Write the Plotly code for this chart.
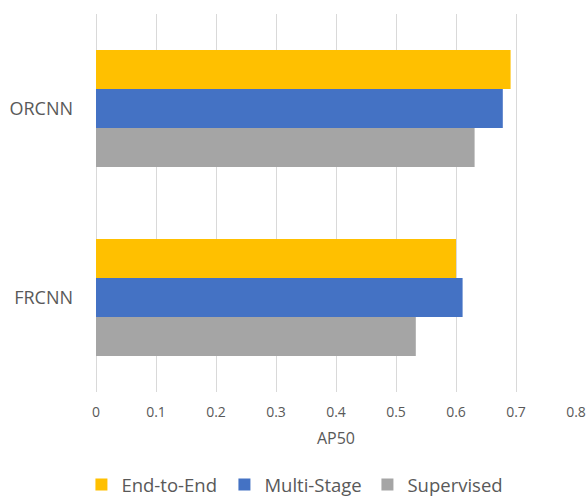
import plotly.graph_objects as go

# Detectors (top to bottom) and AP50 per training scheme
categories = ["ORCNN", "FRCNN"]
series_names = ["End-to-End", "Multi-Stage", "Supervised"]
end_to_end = [0.691, 0.600]
multi_stage = [0.678, 0.611]
supervised = [0.631, 0.533]
x_ticks = [0, 0.1, 0.2, 0.3, 0.4, 0.5, 0.6, 0.7, 0.8]
x_tick_labels = ["0", "0.1", "0.2", "0.3", "0.4", "0.5", "0.6", "0.7", "0.8"]

colors = ["#FFC000", "#4472C4", "#A5A5A5"]
values = [end_to_end, multi_stage, supervised]

fig = go.Figure()
for name, vals, col in zip(series_names, values, colors):
    fig.add_trace(go.Bar(
        y=categories, x=vals, name=name, orientation="h",
        marker=dict(color=col, line=dict(width=0)),
    ))

font_family = "Open Sans, Liberation Sans, sans-serif"
text_color = "#595959"

fig.update_layout(
    width=586, height=497,
    margin=dict(l=96, r=10, t=14, b=105, autoexpand=False),
    paper_bgcolor="white", plot_bgcolor="white",
    barmode="group", bargap=0.38, bargroupgap=0,
    font=dict(family=font_family, color=text_color),
    showlegend=True,
    legend=dict(
        orientation="h", xref="container", x=0.505, xanchor="center",
        yref="container", y=0.024, yanchor="middle",
        font=dict(size=18.5, color=text_color), traceorder="normal",
        itemwidth=30, entrywidth=98,
    ),
    xaxis=dict(
        range=[0, 0.8], tickvals=x_ticks, ticktext=x_tick_labels,
        showgrid=True, gridcolor="#D9D9D9", gridwidth=1,
        zeroline=True, zerolinecolor="#D9D9D9", zerolinewidth=1,
        showline=False, ticks="", automargin=False, ticklabelstandoff=10,
        tickfont=dict(size=14, color=text_color),
        title=dict(text="AP50", font=dict(size=16, color=text_color), standoff=12),
    ),
    yaxis=dict(
        autorange="reversed", showgrid=False, showline=False, ticks="",
        automargin=False,
        tickfont=dict(size=18, color=text_color), ticklabelstandoff=22,
    ),
)

fig.write_html("out.html")
